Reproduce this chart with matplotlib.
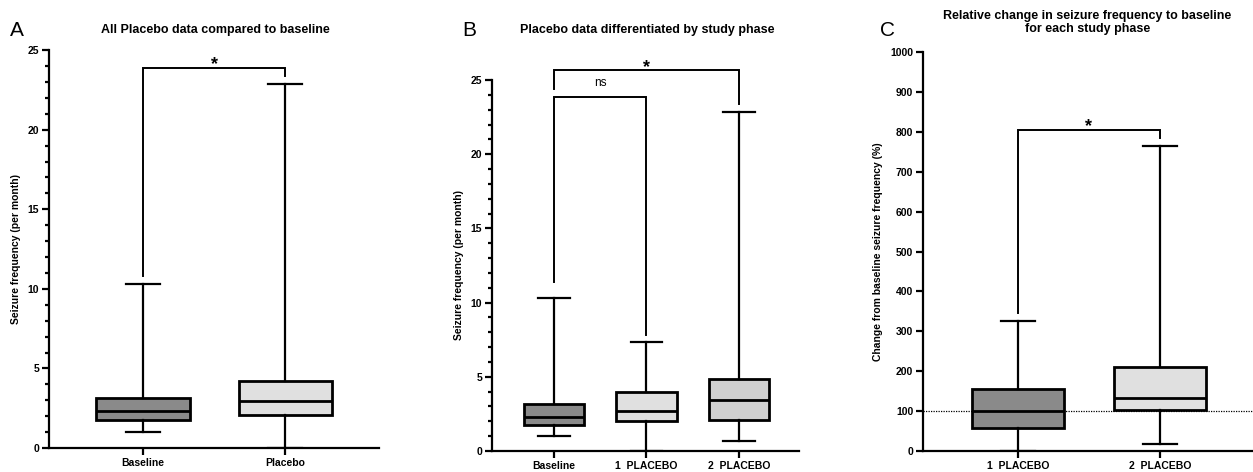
import matplotlib
matplotlib.use("Agg")
import matplotlib.pyplot as plt
from matplotlib.ticker import MultipleLocator

plt.rcParams['font.family'] = ['Liberation Sans', 'DejaVu Sans']

# --- data (whislo, q1, median, q3, whishi) ---
a_labels = ["Baseline", "Placebo"]
a_stats = [
    [1.0, 1.76, 2.33, 3.17, 10.32],
    [0.0, 2.05, 2.96, 4.19, 22.9],
]
a_colors = ["#8a8a8a", "#e0e0e0"]

b_labels = ["Baseline", "1  PLACEBO", "2  PLACEBO"]
b_stats = [
    [1.0, 1.78, 2.32, 3.15, 10.32],
    [0.0, 2.0, 2.70, 3.96, 7.33],
    [0.67, 2.07, 3.42, 4.88, 22.86],
]
b_colors = ["#8a8a8a", "#e0e0e0", "#d0d0d0"]

c_labels = ["1  PLACEBO", "2  PLACEBO"]
c_stats = [
    [0.0, 58.6, 100.4, 154.8, 324.7],
    [16.7, 103.8, 133.0, 210.0, 764.9],
]
c_colors = ["#8a8a8a", "#e0e0e0"]
c_reference = 100

LW = 1.6


def draw_boxes(ax, stats, colors, width, capwidth):
    boxes = []
    for lo, q1, med, q3, hi in stats:
        boxes.append(dict(whislo=lo, q1=q1, med=med, q3=q3, whishi=hi, fliers=[]))
    bp = ax.bxp(boxes, positions=range(len(stats)), widths=width, patch_artist=True,
                showfliers=False, capwidths=capwidth,
                boxprops=dict(linewidth=LW + 0.4, edgecolor="black"),
                medianprops=dict(linewidth=LW + 0.4, color="black"),
                whiskerprops=dict(linewidth=LW, color="black"),
                capprops=dict(linewidth=LW, color="black"))
    for patch, col in zip(bp["boxes"], colors):
        patch.set_facecolor(col)


def style_axis(ax, labels, ymax, major, minor=None):
    ax.spines["top"].set_visible(False)
    ax.spines["right"].set_visible(False)
    ax.spines["left"].set_linewidth(LW)
    ax.spines["bottom"].set_linewidth(LW)
    ax.set_ylim(0, ymax)
    ax.spines["left"].set_bounds(0, ymax)
    ax.yaxis.set_major_locator(MultipleLocator(major))
    if minor:
        ax.yaxis.set_minor_locator(MultipleLocator(minor))
    ax.set_xticks(range(len(labels)))
    ax.set_xticklabels(labels, fontsize=8, fontweight="bold")
    ax.tick_params(axis="both", which="major", width=LW, length=5, labelsize=7.5, pad=2)
    ax.tick_params(axis="y", which="minor", width=LW, length=3)
    for t in ax.get_yticklabels():
        t.set_fontweight("bold")


def bracket(ax, x1, x2, y, y1, y2, text, tsize=13, dy=0.0):
    ax.plot([x1, x1, x2, x2], [y1, y, y, y2], color="black", lw=LW - 0.2,
            clip_on=False, solid_joinstyle="miter")
    ax.text((x1 + x2) / 2, y + dy, text, ha="center", va="bottom",
            fontsize=tsize, fontweight="bold" if text == "*" else "normal", clip_on=False)


fig = plt.figure(figsize=(12.53, 4.72), dpi=100)

# --- Panel A ---
axA = fig.add_axes([0.0391, 0.0508, 0.2634, 0.843])
draw_boxes(axA, a_stats, a_colors, 0.655, 0.24)
axA.set_xlim(-0.662, 1.662)
style_axis(axA, a_labels, 25, 5, 1)
axA.set_ylabel("Seizure frequency (per month)", fontsize=7.5, fontweight="bold", labelpad=5)
bracket(axA, 0, 1, 23.9, 10.8, 23.4, "*", dy=-0.35)
fig.text(0.172, 0.937, "All Placebo data compared to baseline", ha="center", va="center",
         fontsize=9, fontweight="bold")
fig.text(0.008, 0.935, "A", ha="left", va="center", fontsize=15)

# --- Panel B ---
axB = fig.add_axes([0.3927, 0.0445, 0.245, 0.786])
draw_boxes(axB, b_stats, b_colors, 0.65, 0.34)
axB.set_xlim(-0.67, 2.65)
style_axis(axB, b_labels, 25, 5, 1)
axB.set_ylabel("Seizure frequency (per month)", fontsize=7.5, fontweight="bold", labelpad=5)
bracket(axB, 0, 1, 23.88, 11.4, 7.8, "ns", tsize=8.5, dy=0.5)
bracket(axB, 0, 2, 25.67, 24.37, 23.36, "*", dy=-0.4)
fig.text(0.5165, 0.937, "Placebo data differentiated by study phase", ha="center", va="center",
         fontsize=9, fontweight="bold")
fig.text(0.369, 0.935, "B", ha="left", va="center", fontsize=15)

# --- Panel C ---
axC = fig.add_axes([0.7366, 0.0445, 0.2634, 0.845])
axC.axhline(c_reference, color="black", lw=0.9, ls=(0, (1, 1)), zorder=0.5)
draw_boxes(axC, c_stats, c_colors, 0.65, 0.24)
axC.set_xlim(-0.669, 1.655)
style_axis(axC, c_labels, 1000, 100)
axC.set_ylabel("Change from baseline seizure frequency (%)", fontsize=7.5, fontweight="bold", labelpad=5)
bracket(axC, 0, 1, 805, 345, 784, "*", dy=-14)
fig.text(0.868, 0.952, "Relative change in seizure frequency to baseline\nfor each study phase",
         ha="center", va="center", fontsize=9, fontweight="bold", linespacing=1.05)
fig.text(0.702, 0.935, "C", ha="left", va="center", fontsize=15)

fig.savefig("out.png", dpi=100)
